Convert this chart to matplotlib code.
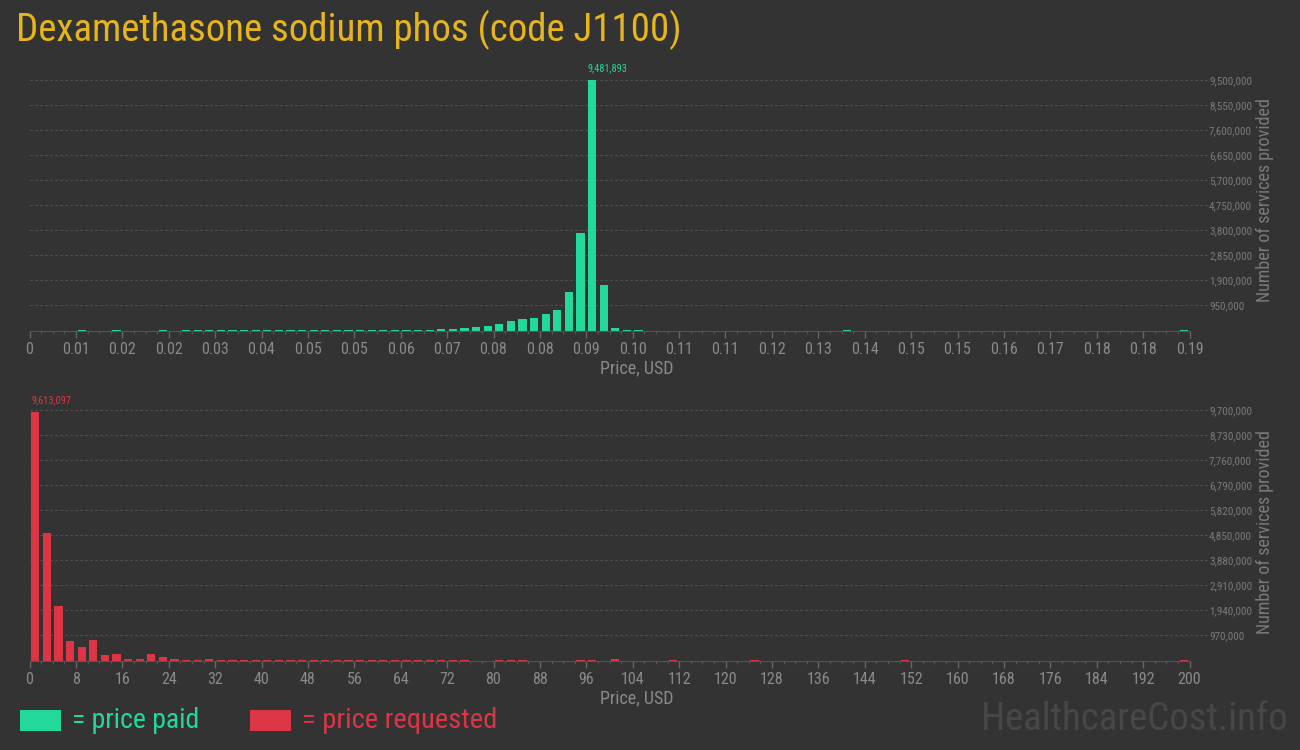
import matplotlib
matplotlib.use('Agg')
import matplotlib.pyplot as plt
import numpy as np
from matplotlib import font_manager
from matplotlib.patches import Rectangle

# pick a condensed face if one is installed
installed = {f.name for f in font_manager.fontManager.ttflist}
FONT = 'DejaVu Sans'
for cand in ['Roboto Condensed', 'Liberation Sans Narrow', 'Roboto']:
    if cand in installed:
        FONT = cand
        break
plt.rcParams['font.family'] = [FONT, 'DejaVu Sans']

title = 'Dexamethasone sodium phos (code J1100)'

# price paid: 100 bins from 0 to paid_max USD
paid_max = 0.1913
paid_bins = [4, 7, 11] + list(range(13, 53)) + [70, 99]
paid_counts = [20000, 20000, 20000,
               18000, 20000, 22000, 20000, 24000, 22000, 20000, 24000, 22000, 24000, 20000,
               22000, 24000, 26000, 24000, 26000, 28000, 26000, 30000, 30000, 32000, 34000,
               60000, 65000, 100000, 140000, 180000, 255000, 370000, 440000, 480000, 635000,
               790000, 1470000, 3710000, 9481893, 1730000, 105000, 30000, 30000,
               30000, 35000]
paid_xlabels = ['0', '0.01', '0.02', '0.02', '0.03', '0.04', '0.05', '0.05', '0.06', '0.07',
                '0.08', '0.08', '0.09', '0.10', '0.11', '0.11', '0.12', '0.13', '0.14', '0.15',
                '0.15', '0.16', '0.17', '0.18', '0.18', '0.19']
paid_ystep = 950000

# price requested: 100 bins from 0 to req_max USD
req_max = 200
req_bins = list(range(0, 38)) + [40, 41, 42, 47, 48, 50, 55, 62, 75, 99]
req_counts = [9613097, 4950000, 2120000, 760000, 530000, 800000, 220000, 260000, 65000, 65000,
              260000, 140000, 65000, 30000, 30000, 60000, 30000, 30000, 30000, 30000,
              30000, 30000, 30000, 25000, 25000, 25000, 25000, 25000, 25000, 25000,
              25000, 25000, 25000, 25000, 25000, 25000, 25000, 25000,
              25000, 25000, 25000, 30000, 30000, 40000, 30000, 30000, 30000, 35000]
req_xlabels = [str(v) for v in range(0, 201, 8)]
req_ystep = 970000

BG = '#333333'
GREEN = '#22d99b'
RED = '#dc3545'
GOLD = '#e6b51e'
GRAY = '#8a8a8a'
GRID = '#555555'

W, H = 1300, 750
fig = plt.figure(figsize=(13, 7.5), dpi=100, facecolor=BG)


def px_axes(x0, y_top, x1, y_bot):
    return fig.add_axes([x0 / W, 1 - y_bot / H, (x1 - x0) / W, (y_bot - y_top) / H])


def draw_hist(ax, bins, counts, xmax, xlabels, ystep, color):
    nb = 100
    bw = xmax / nb
    heights = np.zeros(nb)
    heights[bins] = counts
    centers = (np.arange(nb) + 0.5) * bw
    ax.set_facecolor(BG)
    ax.bar(centers, heights, width=0.72 * bw, color=color, zorder=3)
    ymax = ystep * 10
    ax.set_xlim(0, xmax)
    ax.set_ylim(0, ymax)

    yt = ystep * np.arange(1, 11)
    ax.hlines(yt, 0, 1.015, transform=ax.get_yaxis_transform(), colors=GRID,
              linestyles=(0, (2, 2.5)), linewidth=0.8, clip_on=False, zorder=1)
    ax.yaxis.tick_right()
    ax.set_yticks(yt)
    ax.set_yticklabels([f'{int(v):,}' for v in yt])
    ax.tick_params(axis='y', length=0, pad=14, labelsize=8, labelcolor='#7a7a7a')

    ax.set_xticks(np.linspace(0, xmax, len(xlabels)))
    ax.set_xticklabels(xlabels)
    ax.set_xticks(np.arange(nb + 1) * bw, minor=True)
    ax.tick_params(axis='x', which='major', length=5, width=1, color='#666666',
                   labelsize=11.5, labelcolor=GRAY, pad=3)
    ax.tick_params(axis='x', which='minor', length=2.5, width=0.8, color='#555555')

    for s in ['top', 'left', 'right']:
        ax.spines[s].set_visible(False)
    ax.spines['bottom'].set_color('#555555')
    ax.spines['bottom'].set_zorder(4)

    k = int(np.argmax(heights))
    ax.annotate(f'{int(heights[k]):,}', (centers[k] - 0.36 * bw, heights[k]),
                xytext=(0, 7), textcoords='offset pixels', ha='left', va='bottom',
                fontsize=7.5, color=color, annotation_clip=False)


ax1 = px_axes(29.5, 80, 1189.5, 330.5)
draw_hist(ax1, paid_bins, paid_counts, paid_max, paid_xlabels, paid_ystep, GREEN)
ax2 = px_axes(29.5, 410, 1189.5, 660.5)
draw_hist(ax2, req_bins, req_counts, req_max, req_xlabels, req_ystep, RED)

fig.text(16 / W, 1 - 30 / H, title, color=GOLD, fontsize=28, ha='left', va='center')

for yc in (368, 698):
    fig.text(637 / W, 1 - yc / H, 'Price, USD', color=GRAY, fontsize=13, ha='center', va='center')
for yc in (200, 532):
    fig.text(1265 / W, 1 - yc / H, 'Number of services provided', color='#7a7a7a', fontsize=13,
             rotation=90, ha='center', va='center')

# legend
fig.patches.append(Rectangle((20 / W, 1 - 731 / H), 40.5 / W, 21 / H, transform=fig.transFigure,
                             facecolor=GREEN, edgecolor='none'))
fig.text(72 / W, 1 - 720 / H, '= price paid', color=GREEN, fontsize=20, ha='left', va='center')
fig.patches.append(Rectangle((250 / W, 1 - 731 / H), 41 / W, 21 / H, transform=fig.transFigure,
                             facecolor=RED, edgecolor='none'))
fig.text(302 / W, 1 - 720 / H, '= price requested', color=RED, fontsize=20.5, ha='left', va='center')

fig.text(1288 / W, 1 - 720 / H, 'HealthcareCost.info', color='#474747', fontsize=28,
         ha='right', va='center')

fig.savefig('out.png', dpi=100, facecolor=BG)
